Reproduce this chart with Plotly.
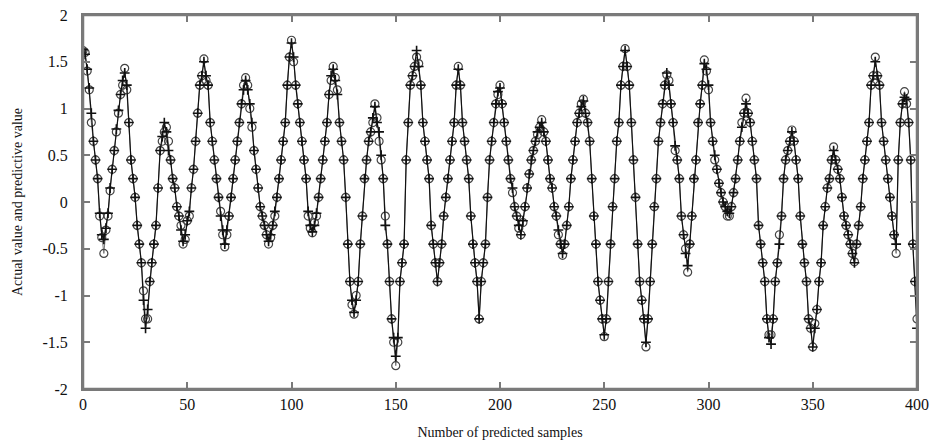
import plotly.graph_objects as go

samples = list(range(401))

actual = [
    1.63, 1.58, 1.42, 1.22, 0.95, 0.65, 0.45, 0.25, -0.12, -0.35,
    -0.40, -0.28, -0.12, 0.15, 0.35, 0.55, 0.78, 0.98, 1.15, 1.30,
    1.38, 1.25, 0.85, 0.45, 0.25, 0.05, -0.25, -0.45, -0.65, -1.05,
    -1.35, -1.15, -0.85, -0.65, -0.45, -0.25, 0.15, 0.55, 0.70, 0.85,
    0.75, 0.55, 0.45, 0.25, 0.15, -0.05, -0.15, -0.30, -0.42, -0.35,
    -0.20, -0.10, 0.15, 0.35, 0.65, 0.95, 1.25, 1.35, 1.50, 1.35,
    1.25, 0.85, 0.65, 0.45, 0.25, 0.05, -0.15, -0.30, -0.45, -0.30,
    -0.15, 0.05, 0.25, 0.45, 0.65, 0.85, 1.05, 1.20, 1.30, 1.20,
    1.05, 0.85, 0.55, 0.35, 0.15, -0.05, -0.15, -0.25, -0.35, -0.42,
    -0.35, -0.25, -0.10, 0.05, 0.25, 0.45, 0.65, 0.85, 1.25, 1.55,
    1.70, 1.55, 1.25, 1.05, 0.85, 0.65, 0.45, 0.25, -0.10, -0.25,
    -0.32, -0.25, -0.12, 0.05, 0.25, 0.45, 0.65, 0.85, 1.15, 1.35,
    1.42, 1.30, 1.15, 0.85, 0.65, 0.45, 0.05, -0.45, -0.85, -1.05,
    -1.18, -1.05, -0.85, -0.45, -0.15, 0.25, 0.45, 0.65, 0.75, 0.90,
    1.02, 0.85, 0.75, 0.50, 0.25, -0.25, -0.45, -0.85, -1.25, -1.45,
    -1.65, -1.45, -0.85, -0.65, -0.45, 0.45, 0.85, 1.25, 1.35, 1.45,
    1.62, 1.45, 1.25, 0.85, 0.65, 0.45, 0.25, -0.25, -0.45, -0.65,
    -0.85, -0.65, -0.45, -0.15, 0.05, 0.25, 0.45, 0.65, 0.85, 1.25,
    1.42, 1.25, 0.85, 0.65, 0.45, 0.25, -0.15, -0.45, -0.65, -0.85,
    -1.25, -0.85, -0.65, -0.45, 0.05, 0.45, 0.65, 0.85, 1.05, 1.18,
    1.22, 1.05, 0.85, 0.65, 0.45, 0.25, 0.15, -0.05, -0.15, -0.25,
    -0.35, -0.20, -0.05, 0.15, 0.30, 0.45, 0.55, 0.65, 0.75, 0.80,
    0.85, 0.75, 0.65, 0.45, 0.25, 0.15, -0.05, -0.15, -0.30, -0.45,
    -0.55, -0.45, -0.25, -0.05, 0.25, 0.45, 0.65, 0.85, 0.95, 1.02,
    1.08, 0.95, 0.85, 0.65, 0.25, -0.15, -0.45, -0.85, -1.05, -1.25,
    -1.42, -1.25, -0.85, -0.45, -0.05, 0.25, 0.65, 0.85, 1.25, 1.45,
    1.62, 1.45, 1.25, 0.85, 0.45, 0.05, -0.45, -0.85, -1.05, -1.25,
    -1.50, -1.25, -0.85, -0.45, -0.05, 0.25, 0.65, 0.85, 1.05, 1.25,
    1.38, 1.25, 1.05, 0.85, 0.60, 0.45, 0.25, -0.15, -0.35, -0.55,
    -0.68, -0.45, -0.15, 0.25, 0.45, 0.85, 1.05, 1.25, 1.48, 1.42,
    1.25, 0.85, 0.65, 0.50, 0.35, 0.20, 0.10, 0.00, -0.05, -0.10,
    -0.12, -0.05, 0.10, 0.25, 0.45, 0.65, 0.80, 0.95, 1.05, 0.95,
    0.85, 0.65, 0.45, 0.25, -0.25, -0.45, -0.65, -0.85, -1.25, -1.45,
    -1.52, -1.25, -0.85, -0.65, -0.45, -0.15, 0.25, 0.45, 0.55, 0.65,
    0.75, 0.65, 0.45, 0.25, -0.15, -0.45, -0.65, -0.85, -1.25, -1.35,
    -1.55, -1.35, -1.15, -0.85, -0.65, -0.25, -0.05, 0.15, 0.25, 0.45,
    0.55, 0.45, 0.35, 0.25, 0.05, -0.15, -0.25, -0.35, -0.45, -0.55,
    -0.65, -0.45, -0.25, -0.05, 0.25, 0.45, 0.65, 0.85, 1.25, 1.35,
    1.50, 1.35, 1.25, 0.85, 0.65, 0.45, 0.25, 0.05, -0.15, -0.35,
    -0.45, 0.45, 0.85, 1.05, 1.12, 1.10, 0.85, 0.45, -0.45, -0.85,
    -1.35,
]

predicted = [
    1.62, 1.60, 1.40, 1.20, 0.85, 0.65, 0.45, 0.25, -0.15, -0.38,
    -0.55, -0.30, -0.15, 0.12, 0.35, 0.55, 0.75, 0.95, 1.15, 1.25,
    1.43, 1.20, 0.85, 0.45, 0.25, 0.05, -0.25, -0.45, -0.65, -0.95,
    -1.25, -1.25, -0.85, -0.65, -0.45, -0.25, 0.15, 0.55, 0.65, 0.75,
    0.80, 0.65, 0.45, 0.25, 0.15, -0.05, -0.15, -0.25, -0.45, -0.40,
    -0.20, -0.15, 0.15, 0.35, 0.65, 0.95, 1.25, 1.35, 1.53, 1.30,
    1.25, 0.85, 0.65, 0.45, 0.25, 0.05, -0.10, -0.35, -0.48, -0.35,
    -0.15, 0.05, 0.25, 0.45, 0.65, 0.85, 1.05, 1.25, 1.33, 1.25,
    1.00, 0.80, 0.55, 0.35, 0.15, -0.05, -0.15, -0.25, -0.35, -0.45,
    -0.38, -0.25, -0.15, 0.05, 0.25, 0.45, 0.65, 0.85, 1.25, 1.55,
    1.73, 1.50, 1.25, 1.05, 0.85, 0.65, 0.45, 0.25, -0.15, -0.28,
    -0.33, -0.22, -0.15, 0.05, 0.25, 0.45, 0.65, 0.85, 1.15, 1.30,
    1.45, 1.33, 1.20, 0.85, 0.65, 0.45, 0.05, -0.45, -0.85, -1.10,
    -1.20, -1.00, -0.85, -0.45, -0.15, 0.25, 0.45, 0.65, 0.75, 0.85,
    1.05, 0.90, 0.65, 0.45, 0.25, -0.15, -0.45, -0.85, -1.25, -1.50,
    -1.75, -1.50, -0.85, -0.65, -0.45, 0.45, 0.85, 1.25, 1.35, 1.45,
    1.55, 1.48, 1.25, 0.85, 0.65, 0.45, 0.25, -0.25, -0.45, -0.65,
    -0.85, -0.65, -0.45, -0.15, 0.05, 0.25, 0.45, 0.65, 0.85, 1.25,
    1.45, 1.25, 0.85, 0.65, 0.45, 0.25, -0.15, -0.45, -0.65, -0.85,
    -1.25, -0.85, -0.65, -0.45, 0.05, 0.45, 0.65, 0.85, 1.05, 1.15,
    1.25, 1.05, 0.85, 0.65, 0.45, 0.25, 0.10, -0.05, -0.15, -0.28,
    -0.35, -0.22, -0.05, 0.15, 0.30, 0.45, 0.55, 0.65, 0.72, 0.80,
    0.88, 0.75, 0.65, 0.45, 0.25, 0.15, -0.05, -0.15, -0.35, -0.45,
    -0.57, -0.45, -0.25, -0.05, 0.25, 0.45, 0.65, 0.85, 0.95, 1.05,
    1.10, 0.95, 0.85, 0.65, 0.25, -0.15, -0.45, -0.85, -1.05, -1.25,
    -1.44, -1.25, -0.85, -0.45, -0.05, 0.25, 0.65, 0.85, 1.25, 1.45,
    1.64, 1.45, 1.25, 0.85, 0.45, 0.05, -0.45, -0.85, -1.05, -1.25,
    -1.55, -1.25, -0.85, -0.45, -0.05, 0.25, 0.65, 0.85, 1.05, 1.25,
    1.36, 1.30, 1.05, 0.85, 0.55, 0.45, 0.25, -0.15, -0.35, -0.50,
    -0.75, -0.45, -0.15, 0.25, 0.45, 0.85, 1.05, 1.25, 1.52, 1.40,
    1.20, 0.85, 0.65, 0.45, 0.35, 0.20, 0.10, 0.00, -0.05, -0.15,
    -0.15, -0.05, 0.10, 0.25, 0.45, 0.65, 0.85, 0.95, 1.11, 0.95,
    0.85, 0.65, 0.45, 0.25, -0.25, -0.45, -0.65, -0.85, -1.25, -1.42,
    -1.42, -1.25, -0.85, -0.65, -0.35, -0.15, 0.25, 0.45, 0.55, 0.65,
    0.77, 0.65, 0.45, 0.25, -0.15, -0.45, -0.65, -0.85, -1.25, -1.35,
    -1.55, -1.30, -1.15, -0.85, -0.65, -0.25, -0.05, 0.15, 0.25, 0.45,
    0.59, 0.45, 0.35, 0.25, 0.05, -0.15, -0.25, -0.35, -0.45, -0.55,
    -0.64, -0.45, -0.25, -0.05, 0.25, 0.45, 0.65, 0.85, 1.25, 1.35,
    1.55, 1.35, 1.25, 0.85, 0.65, 0.45, 0.25, 0.05, -0.15, -0.35,
    -0.55, 0.45, 0.85, 1.05, 1.18, 1.05, 0.85, 0.45, -0.45, -0.85,
    -1.25,
]

x_ticks = [0, 50, 100, 150, 200, 250, 300, 350, 400]
y_ticks = [-2, -1.5, -1, -0.5, 0, 0.5, 1, 1.5, 2]
y_tick_text = ["-2", "-1.5", "-1", "-0.5", "0", "0.5", "1", "1.5", "2"]

fig = go.Figure()
fig.add_trace(go.Scatter(
    x=samples, y=predicted, mode="lines+markers", name="Predictive value",
    line=dict(color="#777777", width=1),
    marker=dict(symbol="circle-open", size=8, color="#444444", line=dict(width=1.2)),
))
fig.add_trace(go.Scatter(
    x=samples, y=actual, mode="lines+markers", name="Actual value",
    line=dict(color="#111111", width=1.2),
    marker=dict(symbol="cross-thin", size=7, color="#111111", line=dict(width=1.6, color="#111111")),
))

serif = "Liberation Serif, Times New Roman, serif"
frame_color = "#7a7a7a"
axis_common = dict(
    showline=True, linecolor=frame_color, linewidth=2, mirror="allticks",
    ticks="inside", ticklen=7, tickwidth=2, tickcolor=frame_color,
    showgrid=False, zeroline=False, automargin=False,
    tickfont=dict(family=serif, size=16, color="#111111"),
)
fig.update_xaxes(
    range=[0, 400], tickvals=x_ticks, ticklabelstandoff=0,
    title=dict(text="Number of predicted samples", font=dict(family=serif, size=14, color="#111111"), standoff=15),
    **axis_common,
)
fig.update_yaxes(
    range=[-2, 2], tickvals=y_ticks, ticktext=y_tick_text, ticklabelstandoff=10,
    title=dict(text="Actual value and predictive value", font=dict(family=serif, size=14, color="#111111"), standoff=17),
    **axis_common,
)
fig.add_shape(
    type="rect", xref="paper", yref="paper", x0=0, y0=0, x1=1, y1=1,
    line=dict(color=frame_color, width=2.5), fillcolor="rgba(0,0,0,0)", layer="above",
)
fig.update_layout(
    width=931, height=445,
    margin=dict(l=83, r=14, t=15, b=56),
    paper_bgcolor="white", plot_bgcolor="white",
    showlegend=False,
)
fig.write_html(
    "out.html",
    config={"displayModeBar": False},
    post_script="document.body.style.margin='0';document.body.style.overflow='hidden';",
)
